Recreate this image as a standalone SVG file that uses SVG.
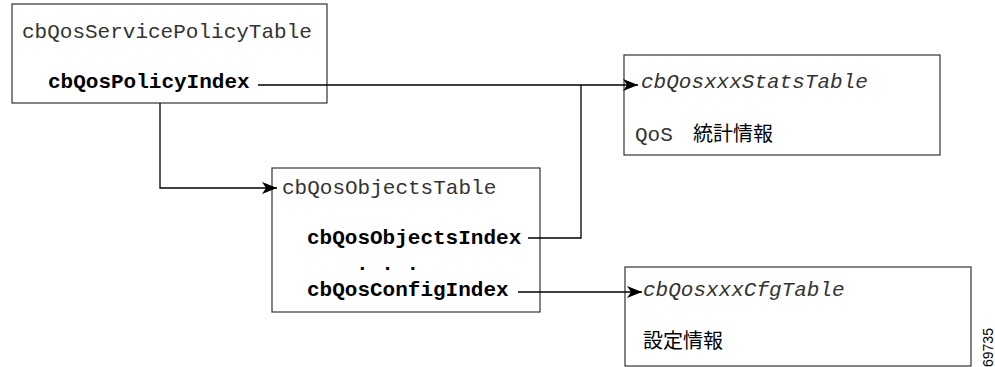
<svg xmlns="http://www.w3.org/2000/svg" width="995" height="367" viewBox="0 0 995 367">
<style>
.box{fill:#fff;stroke:#333;stroke-width:1.2}
.mono{font-family:"Liberation Mono","Courier New",monospace;font-size:21px;fill:#333}
.b{font-weight:bold;fill:#000}
.i{font-style:italic}
.cjk{font-family:"Noto Sans CJK JP","Noto Sans CJK SC",sans-serif;font-size:20px;fill:#000}
.con{fill:none;stroke:#000;stroke-width:1.3}
</style>
<defs>
<marker id="ah" markerUnits="userSpaceOnUse" markerWidth="16" markerHeight="12" refX="15" refY="6" orient="auto">
<path d="M0,0 L15,6 L0,12 L4,6 z" fill="#000"/>
</marker>
</defs>
<g id="servicePolicyTable">
<rect class="box" x="12" y="4" width="315" height="99"/>
<text class="mono" x="22" y="38">cbQosServicePolicyTable</text>
<text class="mono b" x="48" y="88">cbQosPolicyIndex</text>
</g>
<g id="statsTable">
<rect class="box" x="624" y="55" width="316" height="100"/>
<text class="mono i" x="641" y="88">cbQosxxxStatsTable</text>
<text class="mono" x="635" y="141">QoS</text>
<text class="cjk" x="693" y="141">統計情報</text>
</g>
<g id="objectsTable">
<rect class="box" x="272" y="168" width="268" height="144"/>
<text class="mono" x="282" y="194">cbQosObjectsTable</text>
<text class="mono b" x="307" y="244">cbQosObjectsIndex</text>
<text class="mono b" x="356" y="270">.  .  .</text>
<text class="mono b" x="307" y="296">cbQosConfigIndex</text>
</g>
<g id="cfgTable">
<rect class="box" x="625" y="267" width="346" height="99"/>
<text class="mono i" x="643" y="296">cbQosxxxCfgTable</text>
<text class="cjk" x="643" y="348">設定情報</text>
</g>
<g id="connectors">
<path class="con" d="M258,85 H638" marker-end="url(#ah)"/>
<path class="con" d="M160,103 V188 H277" marker-end="url(#ah)"/>
<path class="con" d="M528,238 H581 V85"/>
<path class="con" d="M518,292 H642" marker-end="url(#ah)"/>
</g>
<text x="993" y="367" transform="rotate(-90 993 367)" font-family="Liberation Sans,Arial,sans-serif" font-size="14" fill="#000">69735</text>
</svg>
